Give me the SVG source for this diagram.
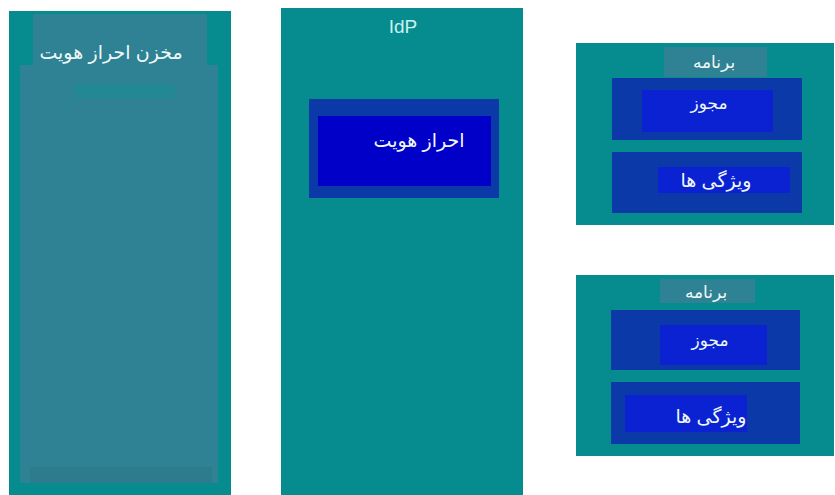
<svg xmlns="http://www.w3.org/2000/svg" width="835" height="495" viewBox="0 0 835 495">
<style>
.teal{fill:#068b8f}
.light{fill:#2f8194}
.dark{fill:#0b3aa8}
.bright{fill:#0000c8}
.bright2{fill:#0a22d2}
text{font-family:"Liberation Sans","DejaVu Sans",sans-serif;fill:#eef8f8;text-anchor:middle}
.lbl{font-size:19px}
.small{font-size:17px}
</style>
<rect width="835" height="495" fill="#ffffff"/>
<g id="store">
<rect class="teal" x="9" y="11" width="222" height="484"/>
<rect class="light" x="33" y="14" width="174" height="51"/>
<rect class="light" x="20" y="65" width="198" height="418"/>
<rect x="30" y="467" width="182" height="16" fill="#2c7c8e"/>
<rect x="75" y="84" width="100" height="14" fill="#228894"/>
<text class="lbl" x="111" y="59">مخزن احراز هویت</text>
</g>
<g id="idp">
<rect class="teal" x="281" y="8" width="242" height="487"/>
<text x="403" y="33" style="font-size:19px;fill:#c8f0f0">IdP</text>
<g id="authn">
<rect class="dark" x="309" y="99" width="190" height="99"/>
<rect class="bright" x="318" y="116" width="173" height="70"/>
<text class="lbl" x="419" y="147">احراز هویت</text>
</g>
</g>
<g id="app1">
<rect class="teal" x="576" y="43" width="258" height="182"/>
<rect class="light" x="664" y="47" width="103" height="30"/>
<text class="small" x="714" y="68">برنامه</text>
<g id="app1-perm">
<rect class="dark" x="612" y="78" width="190" height="62"/>
<rect class="bright2" x="642" y="90" width="131" height="42"/>
<text class="small" x="709" y="109">مجوز</text>
</g>
<g id="app1-attr">
<rect class="dark" x="612" y="152" width="190" height="61"/>
<rect class="bright2" x="658" y="167" width="132" height="26"/>
<text class="lbl" x="716" y="187">ویژگی ها</text>
</g>
</g>
<g id="app2">
<rect class="teal" x="576" y="275" width="258" height="181"/>
<rect class="light" x="660" y="279" width="95" height="24"/>
<text class="small" x="706" y="298">برنامه</text>
<g id="app2-perm">
<rect class="dark" x="611" y="310" width="189" height="60"/>
<rect class="bright2" x="660" y="325" width="107" height="40"/>
<text class="small" x="710" y="346">مجوز</text>
</g>
<g id="app2-attr">
<rect class="dark" x="611" y="382" width="189" height="62"/>
<rect class="bright2" x="625" y="395" width="122" height="37"/>
<text class="lbl" x="711" y="423">ویژگی ها</text>
</g>
</g>
<g id="connectors"/>
</svg>
